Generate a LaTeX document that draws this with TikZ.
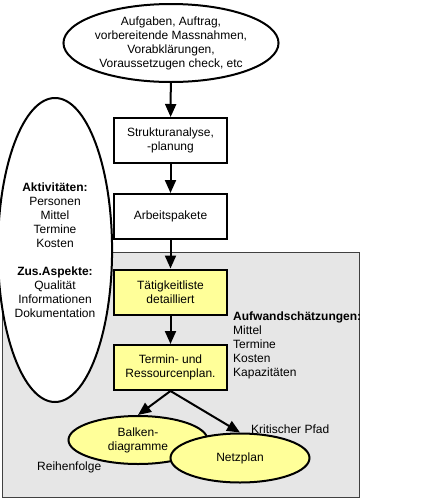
\documentclass[tikz,border=0pt]{standalone}
\usepackage{fontspec}
\setmainfont{Liberation Sans}
\usetikzlibrary{arrows.meta,shapes.geometric}
\definecolor{hellgelb}{RGB}{255,255,153}
\definecolor{hellgrau}{RGB}{230,230,230}
\tikzset{
  kasten/.style={draw,line width=2pt,minimum width=113pt,minimum height=45pt,inner sep=0pt,align=center},
  oval/.style={ellipse,draw,line width=2pt,inner sep=0pt,align=center},
  pfeil/.style={->,line width=2pt},
}

\begin{document}
\begin{tikzpicture}[x=1pt,y=-1pt,>={Triangle[length=13pt,width=11pt]},font=\fontsize{12}{14}\selectfont]
                        \useasboundingbox (0,0) rectangle (421,499);
                        \draw[fill=hellgrau,draw=black!75,line width=0.8pt] (2,252) rectangle (359,497);
                        \node[oval,fill=white,minimum width=98pt,minimum height=304pt] (aktiv) at (55,250) {\textbf{Aktivitäten:}\\Personen\\Mittel\\Termine\\Kosten\\[14pt]\textbf{Zus.Aspekte:}\\Qualität\\Informationen\\Dokumentation};
                        \node[oval,fill=white,minimum width=194pt,minimum height=78pt] (auftrag) at (171,43) {Aufgaben, Auftrag,\\vorbereitende Massnahmen,\\Vorabklärungen,\\Voraussetzugen check, etc};
                        \node[kasten,fill=white] (struktur) at (170.5,140.5) {Strukturanalyse,\\-planung};
                        \node[kasten,fill=white] (pakete) at (170.5,216.5) {Arbeitspakete};
                        \node[kasten,fill=hellgelb] (liste) at (170.5,292) {Tätigkeitliste\\detailliert};
                        \node[kasten,fill=hellgelb] (termin) at (170.5,367.5) {Termin- und\\Ressourcenplan.};
                        \node[anchor=west,align=left,inner sep=0pt] (aufwand) at (233,345) {\textbf{Aufwandschätzungen:}\\Mittel\\Termine\\Kosten\\Kapazitäten};
                        \node[oval,fill=hellgelb,minimum width=139pt,minimum height=48pt] (balken) at (138,440) {Balken-\\diagramme};
                        \node[oval,fill=hellgelb,minimum width=139pt,minimum height=49pt] (netz) at (240,458) {Netzplan};
                        \node[anchor=west,inner sep=0pt] (pfad) at (251,429) {Kritischer Pfad};
                        \node[anchor=west,inner sep=0pt] (folge) at (37,467) {Reihenfolge};
                        \draw[pfeil] (auftrag) -- (struktur);
                        \draw[pfeil] (struktur) -- (pakete);
                        \draw[pfeil] (pakete) -- (liste);
                        \draw[pfeil] (liste) -- (termin);
                        \draw[pfeil] (termin.south) -- (balken.north);
                        \draw[pfeil] (termin.south) -- (netz.north);
                    \end{tikzpicture}
\end{document}
